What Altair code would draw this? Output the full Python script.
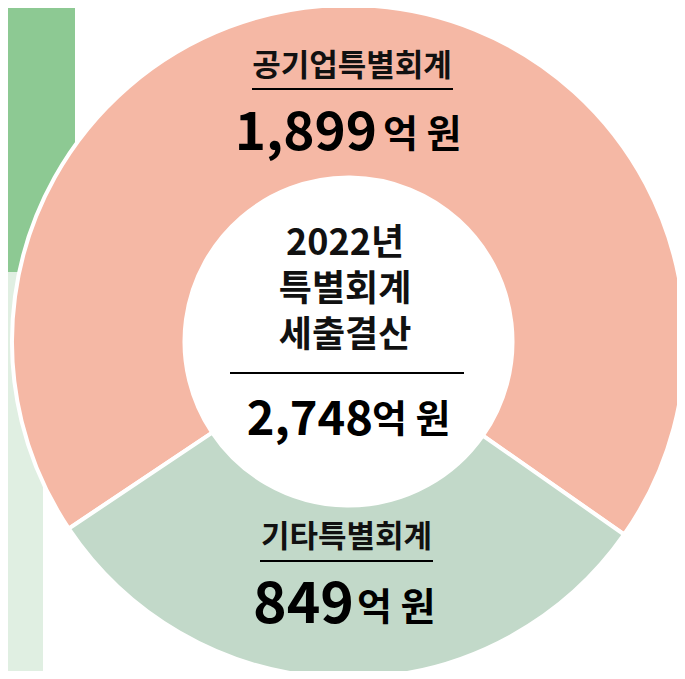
import math
import altair as alt
import pandas as pd

# ---- data ----
categories = ["공기업특별회계", "기타특별회계"]
values = [1899, 849]
slice_colors = ["#F5B8A5", "#C2D9C9"]
stack_order = [1, 0]
title_lines = ["2022년", "특별회계", "세출결산"]
unit_text = ["억 원"]

total = sum(values)
df = pd.DataFrame({"category": categories, "value": values, "ord": stack_order})
df_total = pd.DataFrame({"value": [total]})
df_unit = pd.DataFrame({"unit": unit_text})

FONT = "Noto Sans CJK KR"
W, H = 669, 663

start = math.radians(125)

# background decoration blocks
bg_dark = alt.Chart(df_unit).mark_rect(color="#8DC993").encode(
    x=alt.value(0), x2=alt.value(67), y=alt.value(0), y2=alt.value(264))
bg_light = alt.Chart(df_unit).mark_rect(color="#E0EFE2").encode(
    x=alt.value(0), x2=alt.value(35), y=alt.value(264), y2=alt.value(H))

donut = alt.Chart(df).mark_arc(radius=336.5, radius2=164, stroke="white", strokeWidth=4).encode(
    theta=alt.Theta("value:Q", stack=True,
                    scale=alt.Scale(range=[start, start + 2 * math.pi])),
    color=alt.Color("category:N", scale=alt.Scale(domain=categories, range=slice_colors), legend=None),
    order=alt.Order("ord:Q"),
    x=alt.value(340.5), y=alt.value(333.5),
)


def label(cat, x, y):
    return alt.Chart(df).transform_filter(alt.datum.category == cat).mark_text(
        font=FONT, fontSize=31, fontWeight=600, color="#111111", baseline="middle", align="center"
    ).encode(text="category:N", x=alt.value(x), y=alt.value(y))


def number(cat, x, y, size):
    return alt.Chart(df).transform_filter(alt.datum.category == cat).mark_text(
        font=FONT, fontSize=size, fontWeight="bold", color="#000000", baseline="alphabetic", align="right"
    ).encode(text=alt.Text("value:Q", format=","), x=alt.value(x), y=alt.value(y))


def unit(x, y):
    return alt.Chart(df_unit).mark_text(
        font=FONT, fontSize=38, fontWeight="bold", color="#000000", baseline="alphabetic", align="left"
    ).encode(text="unit:N", x=alt.value(x), y=alt.value(y))


def rule(x1, x2, y):
    return alt.Chart(df_unit).mark_rule(color="#000000", strokeWidth=2).encode(
        x=alt.value(x1), x2=alt.value(x2), y=alt.value(y))


center_title = alt.Chart(df_unit).mark_text(
    text=title_lines, font=FONT, fontSize=36, fontWeight=600, lineHeight=46,
    color="#111111", baseline="middle", align="center"
).encode(x=alt.value(337), y=alt.value(236))

total_num = alt.Chart(df_total).mark_text(
    font=FONT, fontSize=47, fontWeight="bold", color="#000000", baseline="alphabetic", align="right"
).encode(text=alt.Text("value:Q", format=","), x=alt.value(365), y=alt.value(427))

chart = alt.layer(
    bg_dark, bg_light, donut,
    label(categories[0], 344, 59), rule(244, 445, 81),
    number(categories[0], 369, 142, 53), unit(375, 139),
    center_title, rule(222, 456, 365),
    total_num, unit(364, 424),
    label(categories[1], 338.5, 530), rule(252, 425, 553),
    number(categories[1], 346, 615, 57), unit(349, 612),
).properties(
    width=W, height=H, autosize=alt.AutoSizeParams(type="none"), padding=0
).configure_view(stroke=None)

chart.save("out.html", embed_options={"renderer": "svg", "actions": False})
